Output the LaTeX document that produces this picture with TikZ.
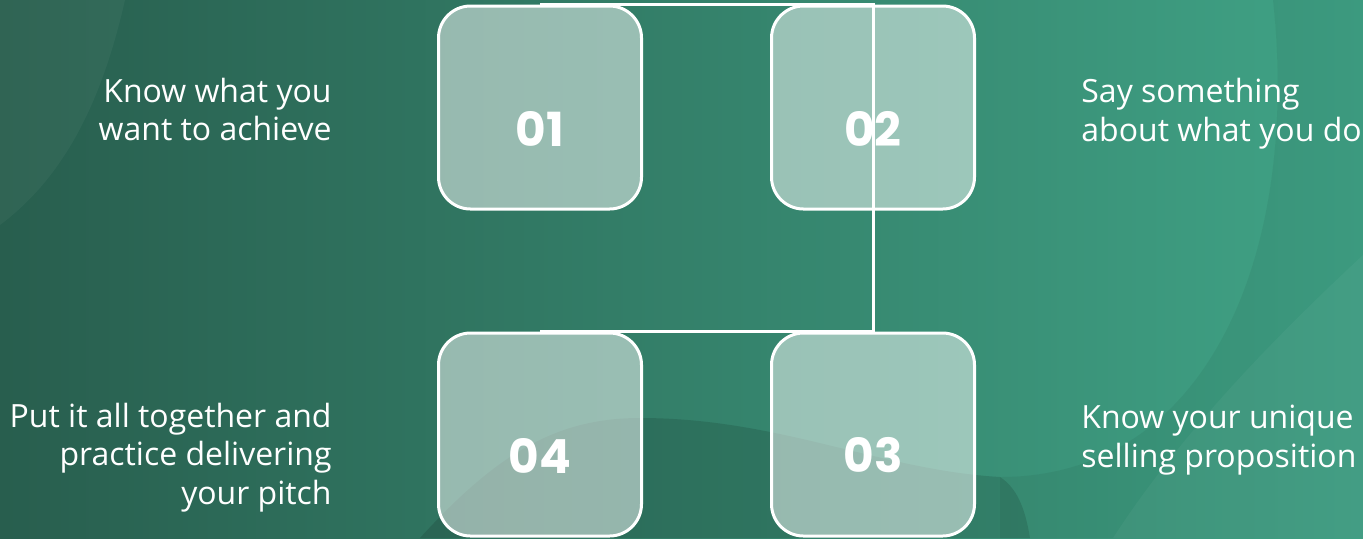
\documentclass[tikz,border=0pt]{standalone}
\usepackage{fontspec}
\setmainfont{Open Sans}
\newfontfamily\numfont{Poppins}
\definecolor{bgleft}{HTML}{285E4E}
\definecolor{bgright}{HTML}{40A386}
\begin{document}
\begin{tikzpicture}[x=0.5pt, y=-0.5pt,
    stepbox/.style={draw=white, line width=1.5pt, rounded corners=16pt,
      fill=white, fill opacity=0.5,
      minimum width=101.5pt, minimum height=101.5pt},
    num/.style={text=white, font=\numfont\bfseries\fontsize{23.5}{28}\selectfont},
    note/.style={text=white, inner sep=0pt, font=\fontsize{16}{19.25}\selectfont},
    link/.style={draw=white, line width=1.5pt}]
    % background
    \shade[left color=bgleft, right color=bgright] (0,0) rectangle (1363,538);
    \fill[white, opacity=0.04] (0,0) -- (125,0) .. controls (100,110) and (60,180) .. (0,225) -- cycle;
    \fill[black, opacity=0.05] (1273,0) .. controls (1300,250) and (1210,477) .. (1000,477)
        -- (1000,538) -- (1363,538) -- (1363,0) -- cycle;
    \fill[white, opacity=0.04] (1363,255) .. controls (1250,360) and (1170,450) .. (1113,538) -- (1363,538) -- cycle;
    \fill[black, opacity=0.12] (420,538) .. controls (500,450) and (560,418) .. (640,418)
        .. controls (780,418) and (880,470) .. (1000,477)
        .. controls (1020,490) and (1026,515) .. (1030,538) -- cycle;

    % steps
    \node[stepbox] (b01) at (540,107.5) {};
    \node[stepbox] (b02) at (873,107.5) {};
    \node[stepbox] (b03) at (873,434.5) {};
    \node[stepbox] (b04) at (540,434.5) {};

    \draw[link] (b01.north) -- (b02.north) -- (b03.north) -- (b04.north);

    \node[num] (n01) at ([yshift=-10.5pt]b01.center) {01};
    \node[num] (n02) at ([yshift=-10.5pt]b02.center) {02};
    \node[num] (n03) at ([yshift=-10.5pt]b03.center) {03};
    \node[num] (n04) at ([yshift=-10.5pt]b04.center) {04};

    % texts
    \node[note, anchor=east, align=right] (t01) at (332,109.5) {Know what you\\want to achieve};
    \node[note, anchor=west, align=left] (t02) at (1081,113.5) {Say something\\about what you do};
    \node[note, anchor=west, align=left] (t03) at (1081,440) {Know your unique\\selling proposition};
    \node[note, anchor=east, align=right] (t04) at (332,457.5) {Put it all together and\\practice delivering\\your pitch};
\end{tikzpicture}
\end{document}
